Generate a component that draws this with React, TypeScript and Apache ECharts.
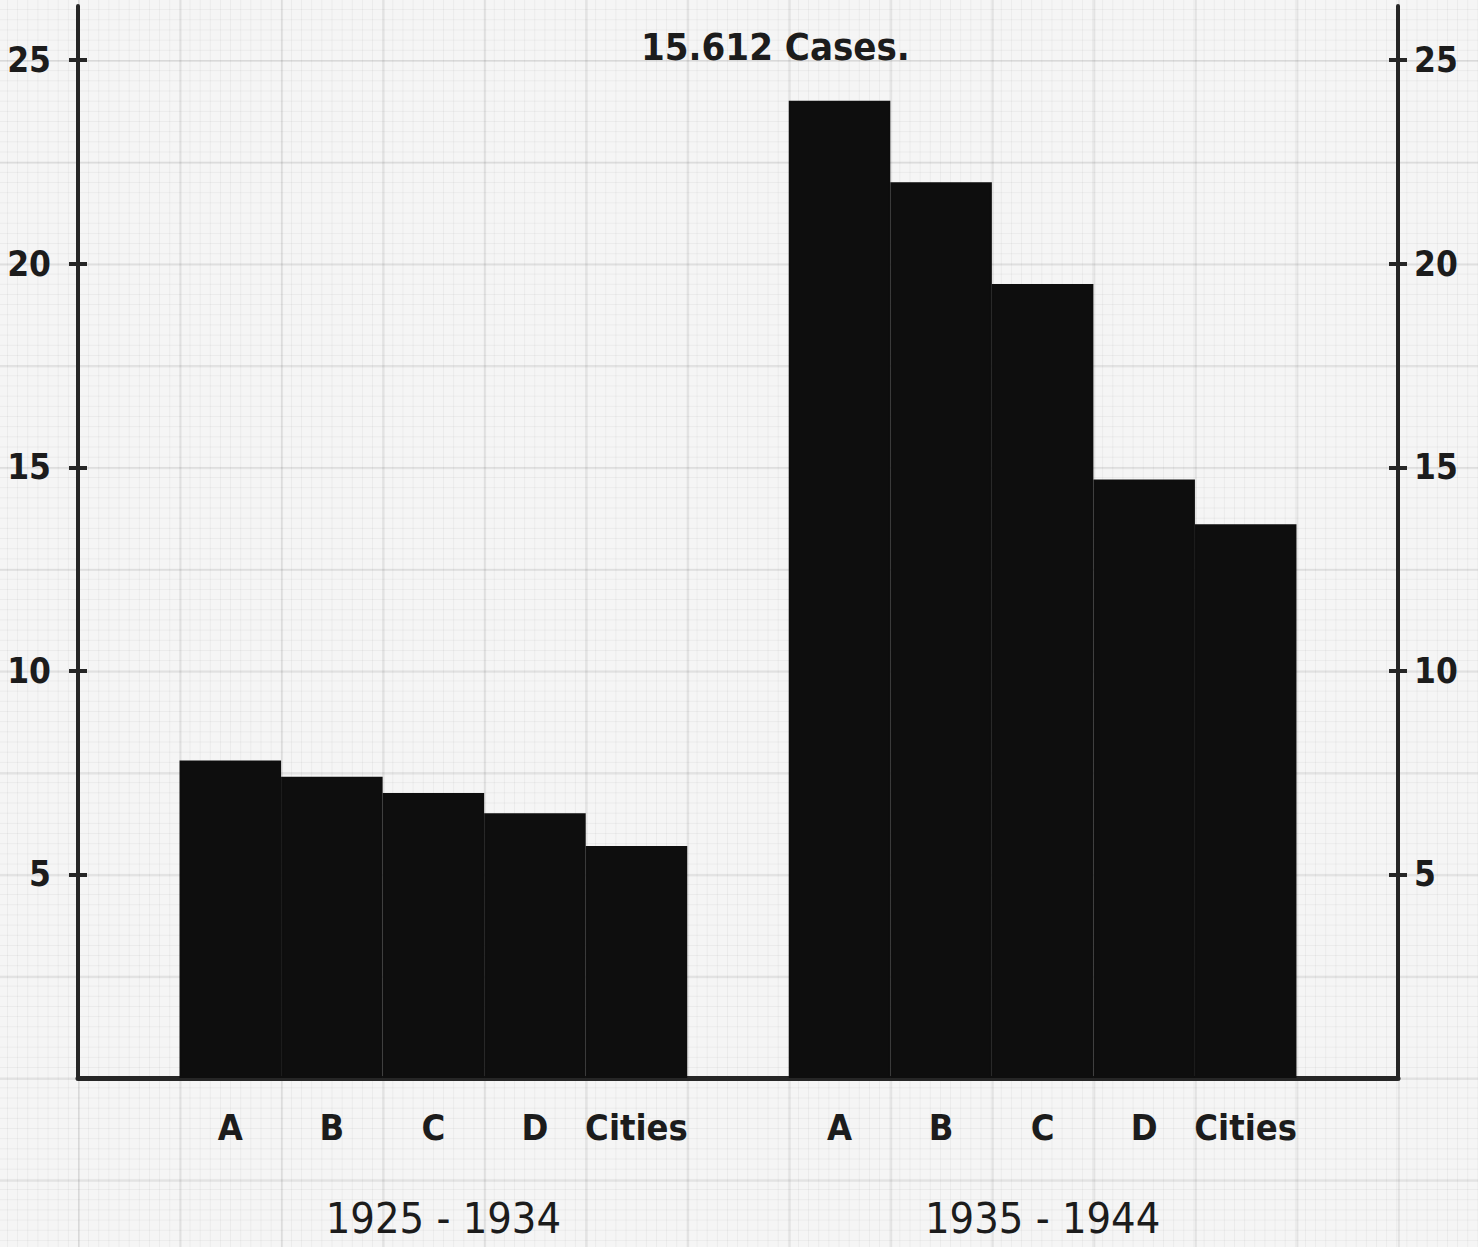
import React, { useEffect, useRef } from "react";
import * as echarts from "echarts";

// ---- data ----
const categories = ["A", "B", "C", "D", "Cities"];
const periods = ["1925 - 1934", "1935 - 1944"];
const rate1925 = [7.8, 7.4, 7.0, 6.5, 5.7];
const rate1935 = [24.0, 22.0, 19.5, 14.7, 13.6];
const yTicks = [5, 10, 15, 20, 25];
const titleText = "15.612 Cases.";

// slots: gap, group 1, gap, group 2, gap
const slotLabels: string[] = ["", ...categories, "", ...categories, ""];
const slotKeys = slotLabels.map((_, i) => "s" + i);
const seriesData: (number | string)[] = ["-", ...rate1925, "-", ...rate1935, "-"];
const periodIndex: Record<number, string> = { 3: "{l|" + periods[0] + "}", 9: "{r|" + periods[1] + "}" };

const INK = "#1c1c1c";
const LINE = "#262626";
const NARROW = '"DejaVu Sans Condensed", "Liberation Sans Narrow", "DejaVu Sans", sans-serif';

export default function App() {
  const ref = useRef<HTMLDivElement>(null);

  useEffect(() => {
    document.body.style.margin = "0";
    if (!ref.current) return;
    const chart = echarts.init(ref.current, undefined, { renderer: "svg" });

    const yBase = (position: "left" | "right", inside: boolean, main: boolean) => ({
      type: "value",
      position,
      min: 0,
      max: 26.33,
      axisLine: { show: main, lineStyle: { color: LINE, width: 4 } },
      axisTick: {
        show: true,
        inside,
        length: 9,
        customValues: yTicks,
        lineStyle: { color: LINE, width: 4 },
      },
      axisLabel: {
        show: main,
        customValues: yTicks,
        margin: position === "left" ? 27 : 16,
        color: INK,
        fontFamily: NARROW,
        fontWeight: "bold",
        fontSize: 35,
      },
      splitLine: { show: false },
    });

    const yearStyle = { color: INK, fontFamily: NARROW, fontSize: 43 };

    chart.setOption({
      animation: false,
      backgroundColor: "transparent",
      title: {
        text: titleText,
        left: 636,
        top: 23,
        textStyle: {
          color: INK,
          fontFamily: NARROW,
          fontWeight: "bold",
          fontSize: 38,
        },
      },
      grid: { left: 78, right: 80, top: 6, bottom: 169 },
      xAxis: [
        {
          type: "category",
          data: slotKeys,
          boundaryGap: true,
          axisLine: { show: true, lineStyle: { color: LINE, width: 5 } },
          axisTick: { show: false },
          axisLabel: {
            interval: 0,
            margin: 31,
            formatter: (_v: string, i: number) => slotLabels[i],
            color: INK,
            fontFamily: NARROW,
            fontWeight: "bold",
            fontSize: 36,
          },
          splitLine: { show: false },
        },
        {
          type: "category",
          data: slotKeys,
          position: "bottom",
          boundaryGap: true,
          axisLine: { show: false },
          axisTick: { show: false },
          axisLabel: {
            interval: 0,
            margin: 118,
            formatter: (_v: string, i: number) => periodIndex[i] || "",
            ...yearStyle,
            rich: {
              l: { ...yearStyle, padding: [0, 0, 0, 20] },
              r: { ...yearStyle },
            },
          },
          splitLine: { show: false },
        },
      ],
      yAxis: [
        yBase("left", false, true),
        yBase("left", true, false),
        yBase("right", false, true),
        yBase("right", true, false),
      ],
      series: [
        {
          type: "bar",
          xAxisIndex: 0,
          yAxisIndex: 0,
          data: seriesData,
          barWidth: "100%",
          barCategoryGap: 0,
          itemStyle: { color: "#0e0e0e", borderColor: "#0e0e0e", borderWidth: 2 },
          z: 3,
        },
      ],
    });

    return () => chart.dispose();
  }, []);

  const minor = "rgba(0,0,0,0.045)";
  const major = "rgba(0,0,0,0.075)";
  return (
    <div
      ref={ref}
      style={{
        width: 1478,
        height: 1247,
        backgroundColor: "#f5f5f5",
        backgroundImage: [
          `linear-gradient(to right, ${major} 2px, transparent 2px)`,
          `linear-gradient(to bottom, ${major} 2px, transparent 2px)`,
          `linear-gradient(to right, ${minor} 1px, transparent 1px)`,
          `linear-gradient(to bottom, ${minor} 1px, transparent 1px)`,
        ].join(","),
        backgroundSize: "101.54px 101.8px, 101.54px 101.8px, 10.154px 10.18px, 10.154px 10.18px",
        backgroundPosition: "78px 60px, 78px 60px, 78px 60px, 78px 60px",
      }}
    />
  );
}
